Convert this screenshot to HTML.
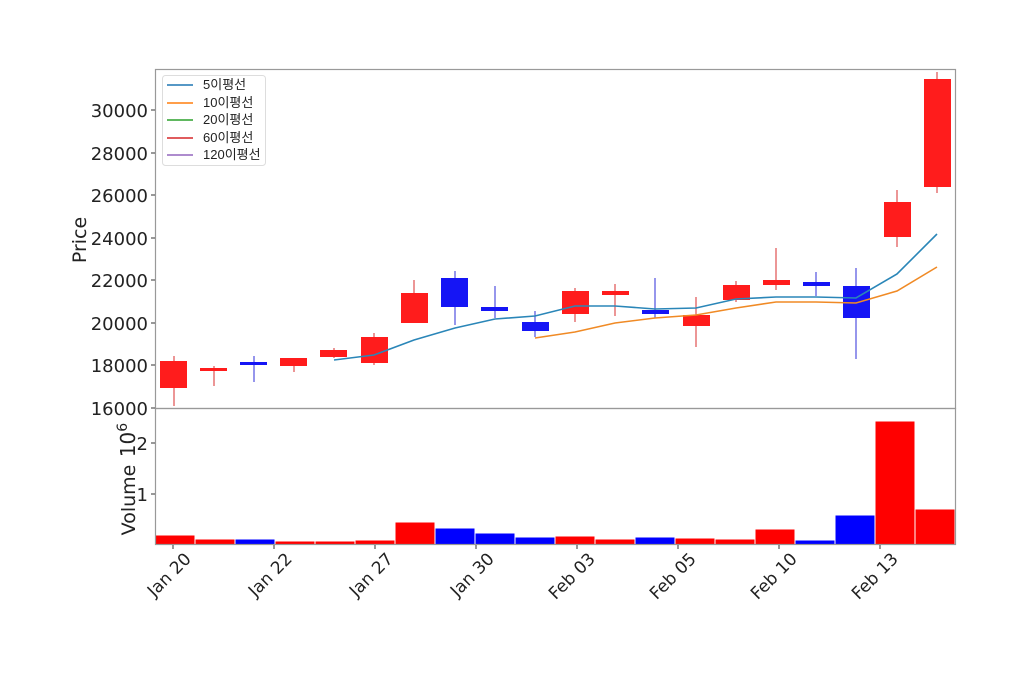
<!DOCTYPE html>
<html><head><meta charset="utf-8"><style>body{margin:0;background:#fff}</style></head><body>
<svg width="1024" height="674" xmlns="http://www.w3.org/2000/svg" font-family="DejaVu Sans, Liberation Sans, sans-serif">
<rect width="1024" height="674" fill="#fff"/>
<g stroke-width="1.2">
<g stroke="#e05050">
<line x1="174" y1="356" x2="174" y2="406"/><line x1="214" y1="366" x2="214" y2="386"/>
<line x1="294" y1="358" x2="294" y2="372"/><line x1="334" y1="348" x2="334" y2="358"/>
<line x1="374" y1="333" x2="374" y2="365"/><line x1="414" y1="280" x2="414" y2="323"/>
<line x1="575" y1="288" x2="575" y2="322"/><line x1="615" y1="284" x2="615" y2="316"/>
<line x1="696" y1="297" x2="696" y2="347"/><line x1="736" y1="281" x2="736" y2="302"/>
<line x1="776" y1="248" x2="776" y2="290"/><line x1="897" y1="190" x2="897" y2="247"/>
<line x1="937" y1="72" x2="937" y2="193"/>
</g>
<g stroke="#5050e0">
<line x1="254" y1="356" x2="254" y2="382"/><line x1="455" y1="271" x2="455" y2="325"/>
<line x1="495" y1="286" x2="495" y2="318"/><line x1="535" y1="311" x2="535" y2="337"/>
<line x1="655" y1="278" x2="655" y2="318"/><line x1="816" y1="272" x2="816" y2="296"/>
<line x1="856" y1="268" x2="856" y2="359"/>
</g>
</g>
<g fill="#ff1c1c">
<rect x="160" y="361" width="27" height="27"/><rect x="200" y="368" width="27" height="3"/>
<rect x="280" y="358" width="27" height="8"/><rect x="320" y="350" width="27" height="7"/>
<rect x="361" y="337" width="27" height="26"/><rect x="401" y="293" width="27" height="30"/>
<rect x="562" y="291" width="27" height="23"/><rect x="602" y="291" width="27" height="4"/>
<rect x="683" y="315" width="27" height="11"/><rect x="723" y="285" width="27" height="15"/>
<rect x="763" y="280" width="27" height="5"/><rect x="884" y="202" width="27" height="35"/>
<rect x="924" y="79" width="27" height="108"/>
</g>
<g fill="#1515f5">
<rect x="240" y="362" width="27" height="3"/><rect x="441" y="278" width="27" height="29"/>
<rect x="481" y="307" width="27" height="4"/><rect x="522" y="322" width="27" height="9"/>
<rect x="642" y="310" width="27" height="4"/><rect x="803" y="282" width="27" height="4"/>
<rect x="843" y="286" width="27" height="32"/>
</g>
<polyline fill="none" stroke="#2a86b8" stroke-width="1.6" points="334,360 374,355 414,340 455,328 495,319 535,316 575,306 615,306 655,309 696,308 736,299 776,297 816,297 856,298 897,274 937,234"/>
<polyline fill="none" stroke="#f08a25" stroke-width="1.6" points="535,338 575,332 615,323 655,318 696,315 736,308 776,302 816,302 856,303 897,291 937,267"/>
<g stroke="#fff" stroke-width="1">
<rect x="155" y="535" width="40" height="10" fill="#ff0000"/><rect x="195" y="539" width="40" height="6" fill="#ff0000"/>
<rect x="235" y="539" width="40" height="6" fill="#0000ff"/><rect x="275" y="541" width="40" height="4" fill="#ff0000"/>
<rect x="315" y="541" width="40" height="4" fill="#ff0000"/><rect x="355" y="540" width="40" height="5" fill="#ff0000"/>
<rect x="395" y="522" width="40" height="23" fill="#ff0000"/><rect x="435" y="528" width="40" height="17" fill="#0000ff"/>
<rect x="475" y="533" width="40" height="12" fill="#0000ff"/><rect x="515" y="537" width="40" height="8" fill="#0000ff"/>
<rect x="555" y="536" width="40" height="9" fill="#ff0000"/><rect x="595" y="539" width="40" height="6" fill="#ff0000"/>
<rect x="635" y="537" width="40" height="8" fill="#0000ff"/><rect x="675" y="538" width="40" height="7" fill="#ff0000"/>
<rect x="715" y="539" width="40" height="6" fill="#ff0000"/><rect x="755" y="529" width="40" height="16" fill="#ff0000"/>
<rect x="795" y="540" width="40" height="5" fill="#0000ff"/><rect x="835" y="515" width="40" height="30" fill="#0000ff"/>
<rect x="875" y="421" width="40" height="124" fill="#ff0000"/><rect x="915" y="509" width="40" height="36" fill="#ff0000"/>
</g>
<rect x="155.5" y="69.5" width="800" height="339" fill="none" stroke="#999" stroke-width="1.2"/>
<rect x="155.5" y="408.5" width="800" height="136" fill="none" stroke="#999" stroke-width="1.2"/>
<g stroke="#333"><line x1="151" y1="408" x2="155" y2="408"/><line x1="151" y1="365" x2="155" y2="365"/><line x1="151" y1="323" x2="155" y2="323"/><line x1="151" y1="280" x2="155" y2="280"/><line x1="151" y1="238" x2="155" y2="238"/><line x1="151" y1="195" x2="155" y2="195"/><line x1="151" y1="153" x2="155" y2="153"/><line x1="151" y1="110" x2="155" y2="110"/>
<line x1="151" y1="494" x2="155" y2="494"/><line x1="151" y1="443" x2="155" y2="443"/>
<line x1="173" y1="545" x2="173" y2="549"/><line x1="274" y1="545" x2="274" y2="549"/><line x1="375" y1="545" x2="375" y2="549"/><line x1="476" y1="545" x2="476" y2="549"/><line x1="577" y1="545" x2="577" y2="549"/><line x1="678" y1="545" x2="678" y2="549"/><line x1="779" y1="545" x2="779" y2="549"/><line x1="880" y1="545" x2="880" y2="549"/></g>
<g font-size="18" fill="#222" text-anchor="end">
<text x="148" y="415">16000</text><text x="148" y="372">18000</text><text x="148" y="330">20000</text><text x="148" y="287">22000</text><text x="148" y="245">24000</text><text x="148" y="202">26000</text><text x="148" y="160">28000</text><text x="148" y="117">30000</text>
<text x="148" y="501">1</text><text x="148" y="450">2</text>
</g>
<text transform="translate(86,240) rotate(-90)" font-size="19" text-anchor="middle" fill="#222">Price</text>
<text transform="translate(135,500) rotate(-90)" font-size="19" text-anchor="middle" fill="#222">Volume</text>
<text transform="translate(135,440) rotate(-90)" font-size="20" text-anchor="middle" fill="#222">10<tspan dy="-8" font-size="14">6</tspan></text>
<g font-size="17" fill="#222" text-anchor="end">
<text transform="translate(192,560) rotate(-45)">Jan 20</text>
<text transform="translate(293,560) rotate(-45)">Jan 22</text>
<text transform="translate(394,560) rotate(-45)">Jan 27</text>
<text transform="translate(495,560) rotate(-45)">Jan 30</text>
<text transform="translate(596,560) rotate(-45)">Feb 03</text>
<text transform="translate(697,560) rotate(-45)">Feb 05</text>
<text transform="translate(798,560) rotate(-45)">Feb 10</text>
<text transform="translate(899,560) rotate(-45)">Feb 13</text>
</g>
<rect x="162.5" y="75.5" width="103" height="90" rx="3" fill="#fff" stroke="#ddd"/>
<g stroke-width="1.6">
<line x1="167" y1="85" x2="193" y2="85" stroke="#1f77b4"/>
<line x1="167" y1="103" x2="193" y2="103" stroke="#ff7f0e"/>
<line x1="167" y1="120" x2="193" y2="120" stroke="#2ca02c"/>
<line x1="167" y1="138" x2="193" y2="138" stroke="#d62728"/>
<line x1="167" y1="155" x2="193" y2="155" stroke="#9467bd"/>
</g>
<g font-size="13" fill="#222" font-family="Liberation Sans, Noto Sans CJK KR, sans-serif">
<text x="203" y="89">5이평선</text><text x="203" y="107">10이평선</text><text x="203" y="124">20이평선</text><text x="203" y="142">60이평선</text><text x="203" y="159">120이평선</text>
</g>
</svg>
</body></html>
